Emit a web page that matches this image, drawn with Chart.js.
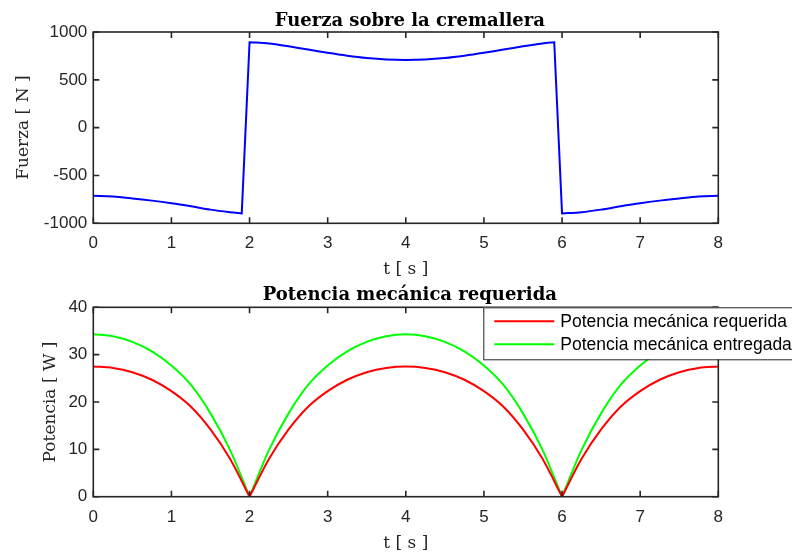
<!DOCTYPE html>
<html>
<head>
<meta charset="utf-8">
<script src="https://cdn.jsdelivr.net/npm/chart.js@4.4.1/dist/chart.umd.min.js"></script>
<style>
  body { margin: 0; background: #fff; }
  #wrap { position: relative; width: 792px; height: 555px; overflow: hidden; background: #fff; }
  canvas { position: absolute; left: 0; }
</style>
</head>
<body>
<div id="wrap">
  <canvas id="fuerzaChart" width="792" height="290" style="top:0"></canvas>
  <canvas id="potenciaChart" width="792" height="290" style="top:265px"></canvas>
</div>
<script>
// tiempos (s) y fuerza (N)
// (las esquinas del salto van repetidas para que la curva no se redondee alli)
const tFuerza = [0, 0.25, 0.5, 0.75, 1, 1.25, 1.5, 1.75, 1.9, 1.9,
  2, 2, 2.25, 2.5, 2.75, 3, 3.25, 3.5, 3.75, 4,
  4.25, 4.5, 4.75, 5, 5.25, 5.5, 5.75, 5.9, 5.9,
  6, 6, 6.25, 6.5, 6.75, 7, 7.25, 7.5, 7.75, 8];
const fuerza = [-713, -720, -740, -763, -790, -822, -857, -884, -897, -897,
  893, 893, 880, 850, 816, 782, 752, 728, 713, 708,
  713, 728, 752, 782, 816, 850, 880, 893, 893,
  -897, -897, -884, -857, -822, -790, -763, -740, -720, -713];

// potencia (W); los ceros en t = 2 y t = 6 van repetidos (pico en V)
const tPot = [0, 0.25, 0.5, 0.75, 1, 1.25, 1.5, 1.75, 2, 2,
  2.25, 2.5, 2.75, 3, 3.25, 3.5, 3.75, 4,
  4.25, 4.5, 4.75, 5, 5.25, 5.5, 5.75, 6, 6,
  6.25, 6.5, 6.75, 7, 7.25, 7.5, 7.75, 8];
const potRequerida = [27.5, 27.2, 26.3, 24.7, 22.3, 19.0, 14.2, 8.0, 0, 0,
  8.0, 14.2, 19.0, 22.3, 24.7, 26.3, 27.2, 27.5,
  27.2, 26.3, 24.7, 22.3, 19.0, 14.2, 8.0, 0, 0,
  8.0, 14.2, 19.0, 22.3, 24.7, 26.3, 27.2, 27.5];
const potEntregada = [34.3, 33.9, 32.7, 30.7, 27.7, 23.6, 17.6, 9.9, 0, 0,
  9.9, 17.6, 23.6, 27.7, 30.7, 32.7, 33.9, 34.3,
  33.9, 32.7, 30.7, 27.7, 23.6, 17.6, 9.9, 0, 0,
  9.9, 17.6, 23.6, 27.7, 30.7, 32.7, 33.9, 34.3];

const xTicks = [0, 1, 2, 3, 4, 5, 6, 7, 8];

Chart.defaults.font.family = '"Liberation Sans", Arial, sans-serif';
Chart.defaults.font.size = 17;
Chart.defaults.color = "#262626";

const serif = '"DejaVu Serif", "Liberation Serif", serif';

// caja de ejes estilo matlab, ticks hacia dentro y titulo
const marco = {
  id: "marco",
  afterDatasetsDraw(chart, args, opts) {
    const { ctx, chartArea: a, scales: { x, y } } = chart;
    ctx.save();
    ctx.strokeStyle = "#262626";
    ctx.lineWidth = 1.6;
    ctx.strokeRect(a.left, a.top, a.right - a.left, a.bottom - a.top);
    const L = 6;
    ctx.beginPath();
    x.ticks.forEach((t) => {
      const px = x.getPixelForValue(t.value);
      ctx.moveTo(px, a.bottom); ctx.lineTo(px, a.bottom - L);
      ctx.moveTo(px, a.top); ctx.lineTo(px, a.top + L);
    });
    y.ticks.forEach((t) => {
      const py = y.getPixelForValue(t.value);
      ctx.moveTo(a.left, py); ctx.lineTo(a.left + L, py);
      ctx.moveTo(a.right, py); ctx.lineTo(a.right - L, py);
    });
    ctx.stroke();
    ctx.fillStyle = "#000";
    ctx.font = "bold 18px " + serif;
    ctx.textAlign = "center";
    ctx.textBaseline = "alphabetic";
    ctx.fillText(opts.titulo, (a.left + a.right) / 2 + 4, a.top - opts.dy);
    ctx.restore();
  },
};

// leyenda dibujada a mano (se sale por la derecha como en la figura)
const leyenda = {
  id: "leyenda",
  afterDraw(chart, args, opts) {
    if (!opts.display) return;
    const { ctx, chartArea: a } = chart;
    const x0 = a.left + 390, y0 = a.top;
    ctx.save();
    ctx.fillStyle = "#fff";
    ctx.fillRect(x0, y0, 400, 52);
    ctx.strokeStyle = "#262626";
    ctx.lineWidth = 1;
    ctx.strokeRect(x0 + 0.5, y0 + 0.5, 400, 52);
    ctx.font = '17.5px "Liberation Sans", Arial, sans-serif';
    ctx.textBaseline = "middle";
    chart.data.datasets.forEach((ds, i) => {
      const yy = y0 + 14 + i * 23;
      ctx.strokeStyle = ds.borderColor;
      ctx.lineWidth = 2;
      ctx.beginPath();
      ctx.moveTo(x0 + 11, yy); ctx.lineTo(x0 + 71, yy);
      ctx.stroke();
      ctx.fillStyle = "#000";
      ctx.fillText(ds.label, x0 + 77, yy + 1);
    });
    ctx.restore();
  },
};

function ejes(min, max, step, etiquetaY, padY, altoX, tituloPad) {
  return {
    x: {
      type: "linear", min: 0, max: 8,
      afterBuildTicks: (s) => { s.ticks = xTicks.map((v) => ({ value: v })); },
      afterFit: (s) => { s.height = altoX; },
      grid: { display: false, drawTicks: false },
      border: { display: false },
      ticks: { padding: 10, callback: (v) => String(v) },
      title: { display: true, text: "t [ s ]", color: "#262626",
        font: { family: serif, size: 17 }, padding: { top: 0, bottom: tituloPad } },
    },
    y: {
      min: min, max: max,
      ticks: { stepSize: step, padding: 6, callback: (v) => String(v) },
      afterFit: (s) => { s.width = 93.3; },
      grid: { display: false, drawTicks: false },
      border: { display: false },
      title: { display: true, text: etiquetaY, color: "#262626",
        font: { family: serif, size: 17 }, padding: { top: padY, bottom: 0 } },
    },
  };
}

new Chart(document.getElementById("fuerzaChart"), {
  type: "line",
  data: {
    datasets: [{
      label: "Fuerza",
      data: tFuerza.map((t, i) => ({ x: t, y: fuerza[i] })),
      borderColor: "#0000ff",
      borderWidth: 2,
      pointRadius: 0,
      tension: 0.3,
    }],
  },
  options: {
    responsive: false,
    animation: false,
    layout: { padding: { top: 32, right: 73.7, left: 0, bottom: 0 } },
    scales: ejes(-1000, 1000, 500, "Fuerza [ N ]", 13, 66.7, 10),
    plugins: {
      legend: { display: false },
      tooltip: { enabled: false },
      marco: { titulo: "Fuerza sobre la cremallera", dy: 6 },
      leyenda: { display: false },
    },
  },
  plugins: [marco, leyenda],
});

new Chart(document.getElementById("potenciaChart"), {
  type: "line",
  data: {
    datasets: [
      {
        label: "Potencia mecánica requerida",
        data: tPot.map((t, i) => ({ x: t, y: potRequerida[i] })),
        borderColor: "#ff0000",
        borderWidth: 2,
        pointRadius: 0,
        tension: 0.3,
      },
      {
        label: "Potencia mecánica entregada",
        data: tPot.map((t, i) => ({ x: t, y: potEntregada[i] })),
        borderColor: "#00ff00",
        borderWidth: 2,
        pointRadius: 0,
        tension: 0.3,
      },
    ],
  },
  options: {
    responsive: false,
    animation: false,
    layout: { padding: { top: 42.3, right: 73.7, left: 0, bottom: 0 } },
    scales: ejes(0, 40, 10, "Potencia [ W ]", 40, 58.3, 1),
    plugins: {
      legend: { display: false },
      tooltip: { enabled: false },
      marco: { titulo: "Potencia mecánica requerida", dy: 7 },
      leyenda: { display: true },
    },
  },
  plugins: [marco, leyenda],
});
</script>
</body>
</html>
